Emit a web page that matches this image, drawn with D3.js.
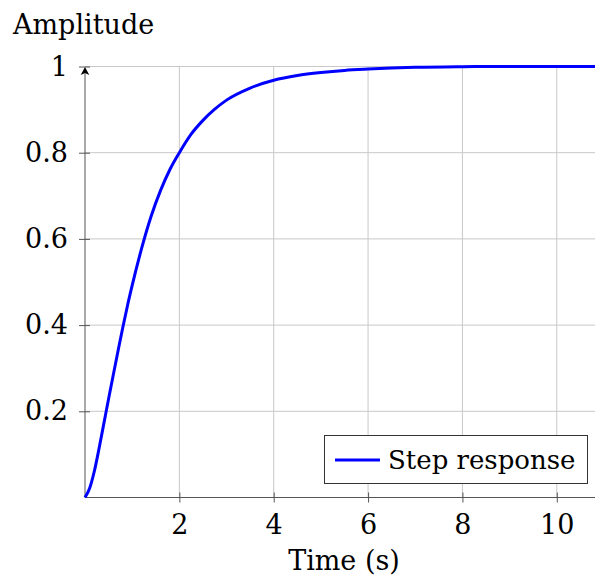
<!DOCTYPE html>
<html>
<head>
<meta charset="utf-8">
<script src="https://cdn.jsdelivr.net/npm/d3@7"></script>
<style>
  body { margin: 0; background: #fff; }
</style>
</head>
<body>
<div id="chart"></div>
<script>
// Step response
const timeValues = [0, 0.1, 0.2, 0.3, 0.4, 0.5, 0.6, 0.7, 0.8, 0.9, 1.0, 1.2, 1.4, 1.6, 1.8, 2.0,
                    2.25, 2.5, 2.75, 3.0, 3.5, 4.0, 4.5, 5.0, 5.5, 6.0, 7.0, 8.0, 9.0, 10.0, 10.81];
const ampValues = [0, 0.022, 0.062, 0.115, 0.172, 0.229, 0.285, 0.34, 0.394, 0.445, 0.492, 0.578, 0.652, 0.712, 0.761, 0.8,
                   0.843, 0.875, 0.901, 0.922, 0.95, 0.968, 0.979, 0.986, 0.991, 0.994, 0.998, 0.9995, 1.0, 1.0, 1.0];
const xTicks = [2, 4, 6, 8, 10];
const yTicks = [0.2, 0.4, 0.6, 0.8, 1];
const seriesName = "Step response";

const width = 595, height = 578;
const margin = { top: 66.5, right: 0, bottom: 80.5, left: 85 };
const serif = "'DejaVu Serif', serif";
const fontSize = "27px";

const svg = d3.select("#chart").append("svg")
  .attr("width", width)
  .attr("height", height);

const x = d3.scaleLinear()
  .domain([0, 10.81])
  .range([margin.left, width - margin.right]);

const y = d3.scaleLinear()
  .domain([0, 1])
  .range([height - margin.bottom, margin.top]);

const data = timeValues.map((t, i) => ({ t: t, a: ampValues[i] }));

// Grid lines
svg.append("g")
  .selectAll("line")
  .data(xTicks)
  .join("line")
    .attr("x1", d => x(d)).attr("x2", d => x(d))
    .attr("y1", y(0)).attr("y2", y(1))
    .attr("stroke", "#c8c8c8")
    .attr("stroke-width", 1);

svg.append("g")
  .selectAll("line")
  .data(yTicks)
  .join("line")
    .attr("x1", x(0)).attr("x2", width)
    .attr("y1", d => y(d)).attr("y2", d => y(d))
    .attr("stroke", "#c8c8c8")
    .attr("stroke-width", 1);

// x axis
const xAxis = svg.append("g")
  .attr("transform", `translate(0,${y(0)})`)
  .call(d3.axisBottom(x).tickValues(xTicks).tickSizeOuter(0).tickSizeInner(5).tickPadding(12)
    .tickFormat(d3.format("d")));
xAxis.attr("font-family", serif).attr("font-size", fontSize);
xAxis.select(".domain").attr("stroke", "#555").attr("d", `M${x(0)},0H${width}`);
xAxis.selectAll(".tick line").attr("y1", -5).attr("y2", 5).attr("stroke", "#555");
xAxis.selectAll(".tick text").attr("dy", "0.72em");

// y axis
const yAxis = svg.append("g")
  .attr("transform", `translate(${x(0)},0)`)
  .call(d3.axisLeft(y).tickValues(yTicks).tickSizeOuter(0).tickSizeInner(6).tickPadding(11)
    .tickFormat(d => d === 1 ? "1" : d3.format(".1f")(d)));
yAxis.attr("font-family", serif).attr("font-size", fontSize);
yAxis.select(".domain").attr("stroke", "#555").attr("d", `M0,${y(0)}V${y(1) + 4}`);
yAxis.selectAll(".tick line").attr("x1", -6).attr("x2", 5).attr("stroke", "#555");

// arrow head on y axis
const ax = x(0), ay = y(1) + 0.5;
svg.append("path")
  .attr("d", `M${ax},${ay} L${ax + 4.3},${ay + 8} L${ax},${ay + 6} L${ax - 4.3},${ay + 8} Z`)
  .attr("fill", "#000")
  .attr("stroke", "none");

// Curve
const line = d3.line()
  .x(d => x(d.t))
  .y(d => y(d.a))
  .curve(d3.curveMonotoneX);

svg.append("path")
  .datum(data)
  .attr("d", line)
  .attr("fill", "none")
  .attr("stroke", "#0000ff")
  .attr("stroke-width", 3);

// Labels
svg.append("text")
  .attr("x", 13)
  .attr("y", 34)
  .attr("font-family", serif)
  .attr("font-size", fontSize)
  .text("Amplitude");

svg.append("text")
  .attr("x", 344)
  .attr("y", 570)
  .attr("text-anchor", "middle")
  .attr("font-family", serif)
  .attr("font-size", fontSize)
  .text("Time (s)");

// Legend
const legend = svg.append("g");
legend.append("rect")
  .attr("x", 324.5).attr("y", 435.5)
  .attr("width", 263).attr("height", 48)
  .attr("fill", "#fff")
  .attr("stroke", "#333")
  .attr("stroke-width", 1);
legend.append("line")
  .attr("x1", 335).attr("x2", 380)
  .attr("y1", 460).attr("y2", 460)
  .attr("stroke", "#0000ff")
  .attr("stroke-width", 3);
legend.append("text")
  .attr("x", 388)
  .attr("y", 469)
  .attr("font-family", serif)
  .attr("font-size", "26px")
  .text(seriesName);
</script>
</body>
</html>
